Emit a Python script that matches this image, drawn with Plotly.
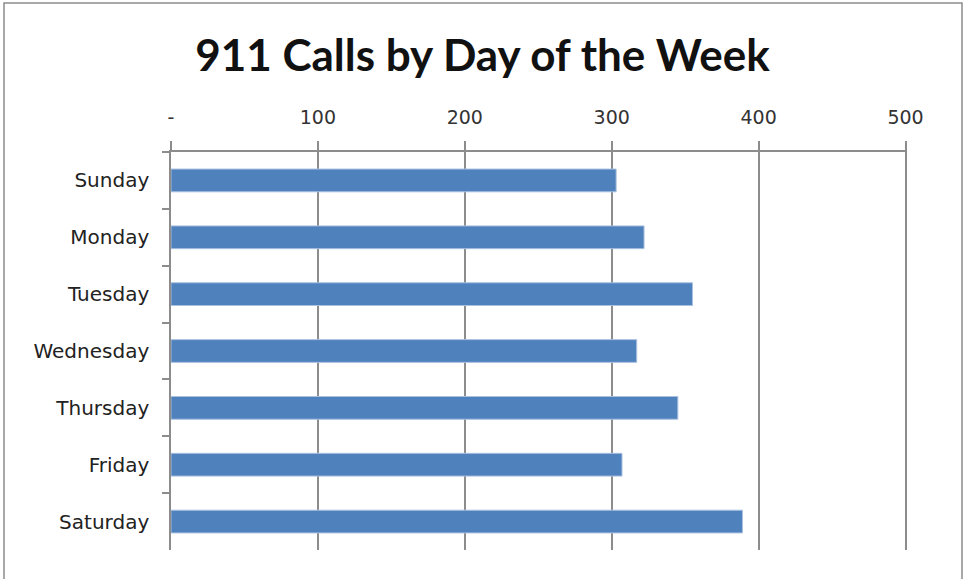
import plotly.graph_objects as go

days = ["Sunday", "Monday", "Tuesday", "Wednesday", "Thursday", "Friday", "Saturday"]
calls = [303, 322, 355, 317, 345, 307, 389]
tick_values = [0, 100, 200, 300, 400, 500]
tick_labels = ["-", "100", "200", "300", "400", "500"]

fig = go.Figure(go.Bar(
    x=calls, y=days, orientation="h",
    marker=dict(color="#4F81BD", line=dict(color="#A9C0DF", width=1)),
    width=0.4,
))

axis_gray = "#8C8C8C"
label_font = "DejaVu Sans, Verdana, sans-serif"
fig.update_layout(
    width=965, height=579,
    margin=dict(l=171, r=58, t=152, b=29),
    paper_bgcolor="white", plot_bgcolor="white",
    showlegend=False,
    title=dict(text="<b>911 Calls by Day of the Week</b>", x=0.5, xanchor="center",
               y=1 - 56 / 579, yanchor="middle",
               font=dict(family="Lato, Open Sans, sans-serif", size=44, color="#111111")),
    font=dict(family=label_font, size=20, color="#222222"),
    xaxis=dict(side="top", range=[0, 501], tickvals=tick_values, ticktext=tick_labels,
               showgrid=True, gridcolor=axis_gray, gridwidth=1.5,
               showline=True, linecolor=axis_gray, linewidth=1.5,
               ticks="outside", ticklen=9, tickcolor=axis_gray, tickwidth=1.5,
               ticklabelstandoff=10, zeroline=False,
               tickfont=dict(family=label_font, size=19, color="#333333")),
    yaxis=dict(autorange="reversed", categoryorder="array", categoryarray=days,
               showline=True, linecolor=axis_gray, linewidth=1.5,
               ticks="outside", tickson="boundaries", ticklen=7, tickcolor=axis_gray, tickwidth=1.5,
               ticklabelstandoff=16, showgrid=False,
               tickfont=dict(family=label_font, size=20, color="#222222")),
)

# outer chart frame
fig.add_shape(type="rect", xref="paper", yref="paper",
              x0=(4 - 171) / 736, x1=(962 - 171) / 736,
              y0=(550 - 583) / 398, y1=(550 - 3) / 398,
              line=dict(color="#8C8C8C", width=1.5), fillcolor="rgba(0,0,0,0)", layer="below")

fig.write_html("out.html", config={"displayModeBar": False},
               post_script="document.body.style.margin='0';")
